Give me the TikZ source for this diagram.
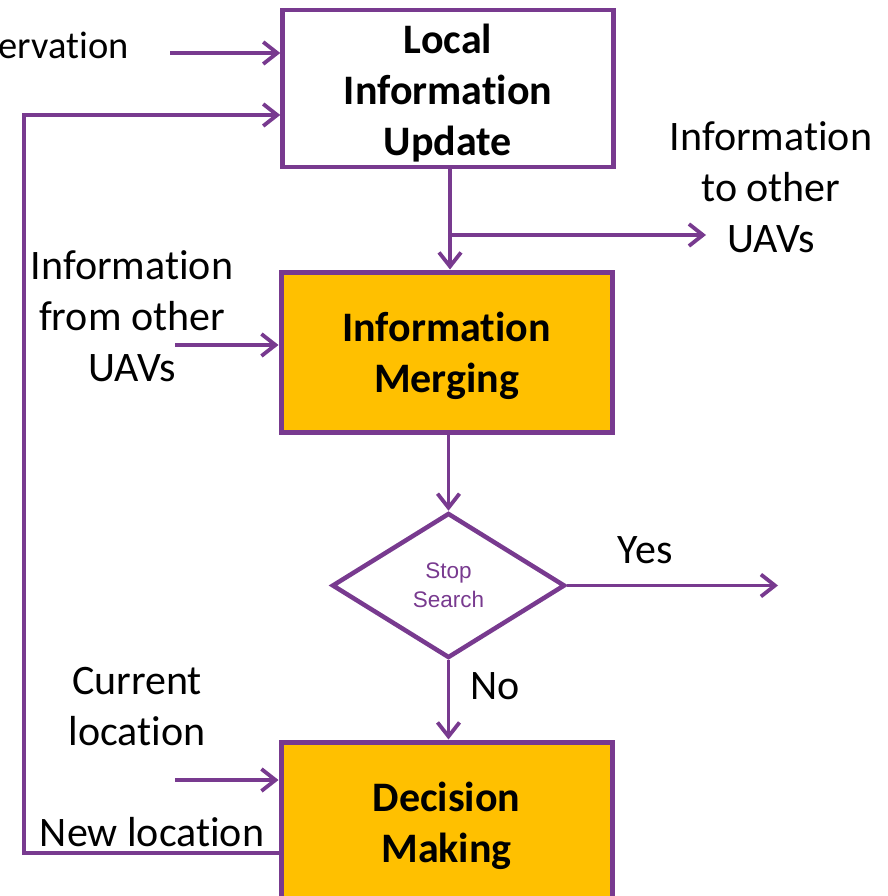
\documentclass[tikz,border=0pt]{standalone}
\usepackage{fontspec}
\setmainfont{Carlito}[Ligatures=NoCommon]
\newfontfamily\arialfont{Liberation Sans}
\usetikzlibrary{arrows.meta,shapes.geometric}
\definecolor{pur}{RGB}{120,58,143}
\definecolor{org}{RGB}{255,192,0}
\tikzset{
  box/.style={draw=pur, line width=5pt, minimum width=331pt, inner sep=0pt},
  boxtxt/.style={inner sep=0pt, align=center, font=\fontsize{42}{51}\selectfont\bfseries},
  lbl/.style={inner sep=0pt, align=center, font=\fontsize{42}{51}\selectfont},
  arr/.style={draw=pur, line width=3.8pt, -{Straight Barb[length=14pt,width=22pt]}},
}
\begin{document}
\begin{tikzpicture}[x=1pt,y=-1pt]
\useasboundingbox (0,0) rectangle (887,896);
% boxes
\node[box, fill=white, line width=4.5pt, minimum height=157pt] (lu) at (448,88.5) {};
\node[boxtxt] (lut) at ([yshift=-5pt]lu.center) {Local\\Information\\Update};
\node[box, fill=org, minimum height=160pt] (im) at (446.5,352) {};
\node[boxtxt] (imt) at ([yshift=-4pt]im.center) {Information\\Merging};
\node[draw=pur, line width=4.5pt, shape=diamond, minimum width=233pt, minimum height=145pt, inner sep=0pt,
      align=center, text=pur, font=\arialfont\fontsize{22.5}{29}\selectfont] (ss) at (448.5,585.5) {Stop\\Search};
\node[box, fill=org, minimum height=160pt] (dm) at (446.5,822) {};
\node[boxtxt] (dmt) at ([yshift=-4pt]dm.center) {Decision\\Making};
% labels
\node[lbl, anchor=east, font=\fontsize{38.5}{51}\selectfont] (obs) at (129,45) {ervation};
\node[lbl] (ito) at (771,187) {Information\\to other\\UAVs};
\node[lbl] (ifr) at (132,316) {Information\\from other\\UAVs};
\node[lbl] (cl) at (137,707) {Current\\location};
\node[lbl] (nl) at (152,832) {New location};
\node[lbl] (yes) at (645,550) {Yes};
\node[lbl] (no) at (495,686) {No};
% coordinates
\coordinate (obsS) at (170,53);
\coordinate (ifrS) at (175,345);
\coordinate (clS) at (175,780);
\coordinate (fb1) at (24,853);
\coordinate (fb2) at (24,115);
\coordinate (br) at (450,235);
\coordinate (itoE) at (706,235);
\coordinate (yesE) at (778,585.5);
% connectors
\draw[arr] (obsS) -- (obsS -| lu.west);
\draw[arr] (fb1 -| dm.west) -- (fb1) -- (fb2) -- (fb2 -| lu.west);
\draw[arr] (lu.south -| 450,0) -- (im.north -| 450,0);
\draw[arr] (br) -- (itoE);
\draw[arr] (ifrS) -- (ifrS -| im.west);
\draw[arr] (im.south -| ss.north) -- (ss.north);
\draw[arr] (ss.east) -- (yesE);
\draw[arr] (ss.south) -- (dm.north -| ss.south);
\draw[arr] (clS) -- (clS -| dm.west);
\end{tikzpicture}
\end{document}
